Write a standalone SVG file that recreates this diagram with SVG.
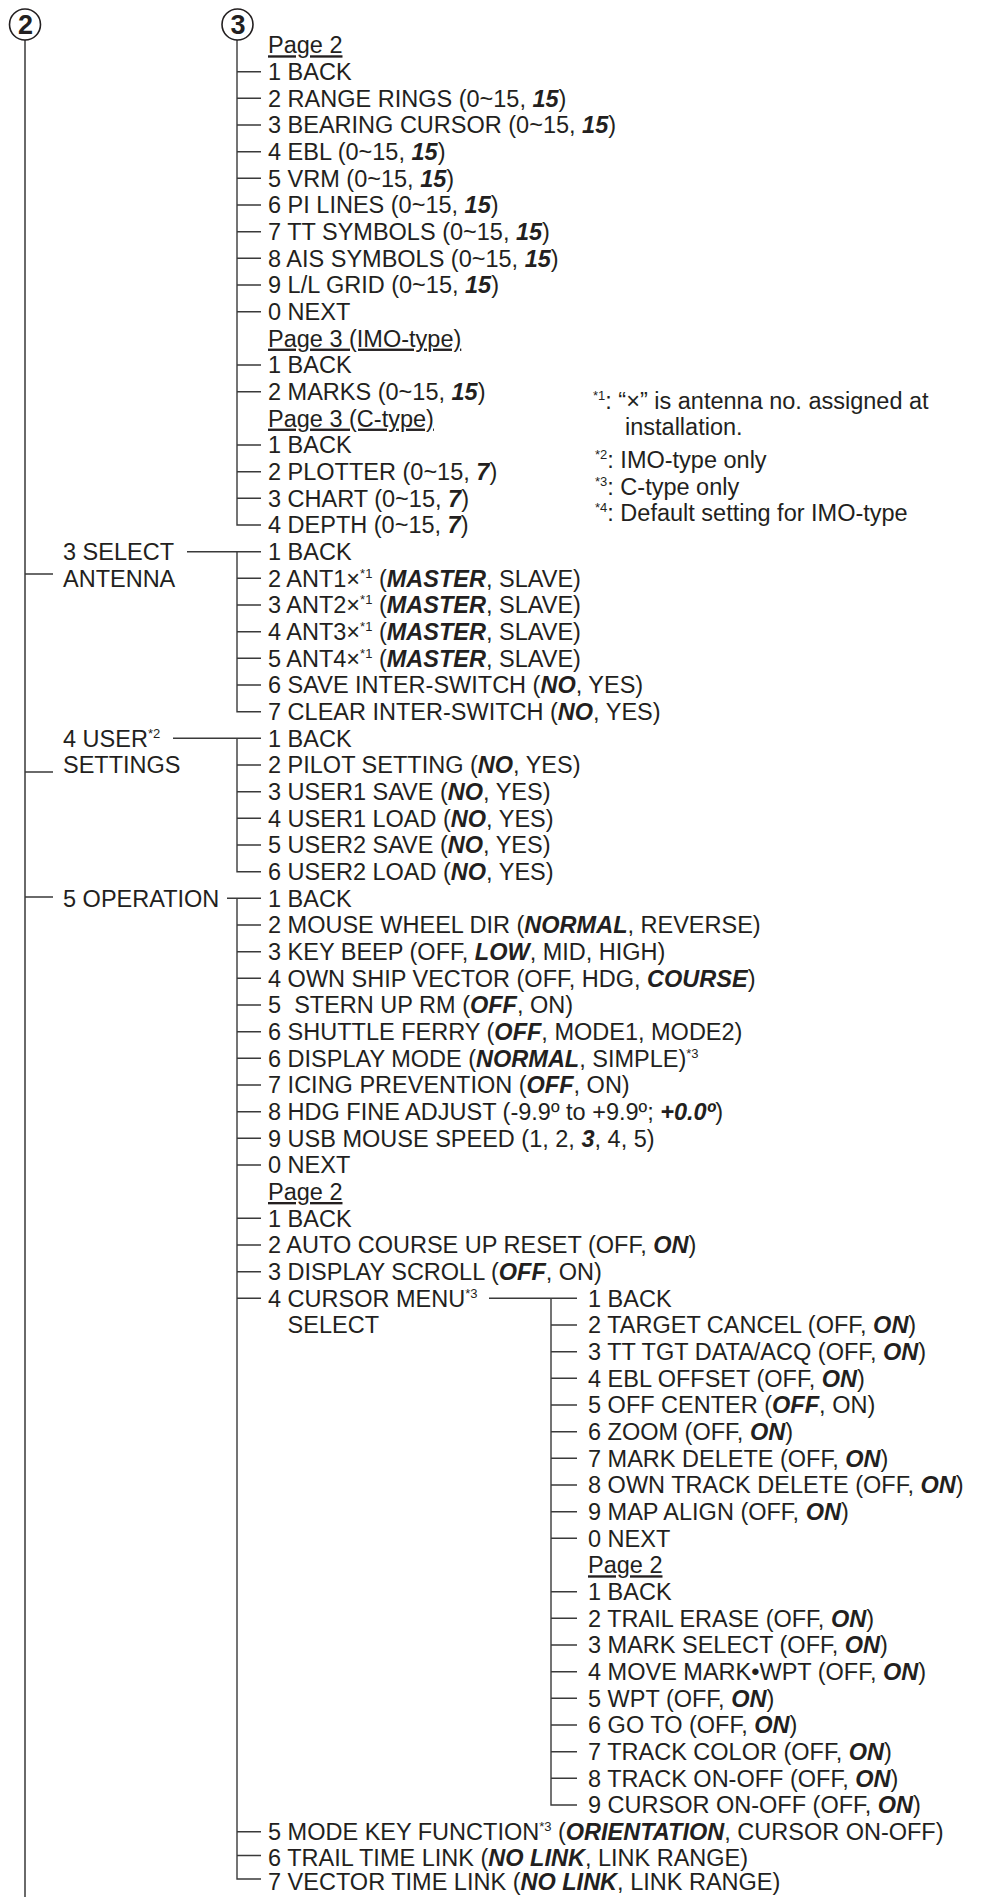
<svg xmlns="http://www.w3.org/2000/svg" width="981" height="1897" viewBox="0 0 981 1897">
<style>
.t{font-family:"Liberation Sans",Arial,sans-serif;font-size:23.5px;fill:#231f20}
.b{font-weight:bold;font-style:italic}
.s{font-size:13px}
.u{text-decoration:underline}
.ln{fill:none;stroke:#3a3a3a;stroke-width:1.4}
.ln2{fill:none;stroke:#6a6a6a;stroke-width:2}
.cir{fill:#fff;stroke:#231f20;stroke-width:1.6}
.num{font-family:"Liberation Sans",Arial,sans-serif;font-size:27px;font-weight:bold;fill:#231f20;text-anchor:middle}
</style>
<rect width="981" height="1897" fill="#fff"/>
<g id="connectors">
<path class="ln2" d="M25 40 V1897"/>
<path class="ln" d="M25 574 H53 M25 772 H53 M25 897 H53"/>
<path class="ln" d="M237 40 V525 H261 M237 71.7 H261 M237 98.3 H261 M237 125 H261 M237 151.7 H261 M237 178.3 H261 M237 205 H261 M237 231.7 H261 M237 258.3 H261 M237 285 H261 M237 311.7 H261 M237 365 H261 M237 391.7 H261 M237 445 H261 M237 471.7 H261 M237 498.3 H261"/>
<path class="ln" d="M187 551.7 H261 M237 551.7 V711.7 H261 M237 578.3 H261 M237 605 H261 M237 631.7 H261 M237 658.3 H261 M237 685 H261"/>
<path class="ln" d="M173 738.3 H261 M237 738.3 V871.7 H261 M237 765 H261 M237 791.7 H261 M237 818.3 H261 M237 845 H261"/>
<path class="ln" d="M227 898.3 H261 M237 898.3 V1879 H261 M237 925 H261 M237 951.7 H261 M237 978.3 H261 M237 1005 H261 M237 1031.7 H261 M237 1058.3 H261 M237 1085 H261 M237 1111.7 H261 M237 1138.3 H261 M237 1165 H261 M237 1218.3 H261 M237 1245 H261 M237 1271.7 H261 M237 1298.3 H261 M237 1831.7 H261 M237 1855.5 H261"/>
<path class="ln" d="M489 1298.3 H577 M551 1298.3 V1805 H577 M551 1325 H577 M551 1351.7 H577 M551 1378.3 H577 M551 1405 H577 M551 1431.7 H577 M551 1458.3 H577 M551 1485 H577 M551 1511.7 H577 M551 1538.3 H577 M551 1591.7 H577 M551 1618.3 H577 M551 1645 H577 M551 1671.7 H577 M551 1698.3 H577 M551 1725 H577 M551 1751.7 H577 M551 1778.3 H577"/>
</g>
<g id="node-2"><circle class="cir" cx="25" cy="24.5" r="15.5"/><text class="num" x="25.5" y="34.3">2</text></g>
<g id="node-3"><circle class="cir" cx="237.5" cy="24.5" r="15.5"/><text class="num" x="238" y="34.3">3</text></g>
<g id="menu-3" class="t">
<text x="268" y="53.3" class="t u">Page 2</text>
<text x="268" y="80" class="t">1 BACK</text>
<text x="268" y="106.6" class="t">2 RANGE RINGS (0~15, <tspan class="b">15</tspan>)</text>
<text x="268" y="133.3" class="t">3 BEARING CURSOR (0~15, <tspan class="b">15</tspan>)</text>
<text x="268" y="160" class="t">4 EBL (0~15, <tspan class="b">15</tspan>)</text>
<text x="268" y="186.6" class="t">5 VRM (0~15, <tspan class="b">15</tspan>)</text>
<text x="268" y="213.3" class="t">6 PI LINES (0~15, <tspan class="b">15</tspan>)</text>
<text x="268" y="240" class="t">7 TT SYMBOLS (0~15, <tspan class="b">15</tspan>)</text>
<text x="268" y="266.6" class="t">8 AIS SYMBOLS (0~15, <tspan class="b">15</tspan>)</text>
<text x="268" y="293.3" class="t">9 L/L GRID (0~15, <tspan class="b">15</tspan>)</text>
<text x="268" y="320" class="t">0 NEXT</text>
<text x="268" y="346.6" class="t u">Page 3 (IMO-type)</text>
<text x="268" y="373.3" class="t">1 BACK</text>
<text x="268" y="400" class="t">2 MARKS (0~15, <tspan class="b">15</tspan>)</text>
<text x="268" y="426.6" class="t u">Page 3 (C-type)</text>
<text x="268" y="453.3" class="t">1 BACK</text>
<text x="268" y="480" class="t">2 PLOTTER (0~15, <tspan class="b">7</tspan>)</text>
<text x="268" y="506.6" class="t">3 CHART (0~15, <tspan class="b">7</tspan>)</text>
<text x="268" y="533.3" class="t">4 DEPTH (0~15, <tspan class="b">7</tspan>)</text>
</g>
<g id="notes">
<text x="593" y="409" class="t"><tspan class="s" dy="-9">*1</tspan><tspan dy="9">: “×” is antenna no. assigned at</tspan></text>
<text x="625" y="435" class="t">installation.</text>
<text x="595" y="468" class="t"><tspan class="s" dy="-9">*2</tspan><tspan dy="9">: IMO-type only</tspan></text>
<text x="595" y="495" class="t"><tspan class="s" dy="-9">*3</tspan><tspan dy="9">: C-type only</tspan></text>
<text x="595" y="521" class="t"><tspan class="s" dy="-9">*4</tspan><tspan dy="9">: Default setting for IMO-type</tspan></text>
</g>
<g id="select-antenna">
<text x="63" y="560" class="t">3 SELECT</text>
<text x="63" y="586.6" class="t">ANTENNA</text>
<text x="268" y="560" class="t">1 BACK</text>
<text x="268" y="586.6" class="t">2 ANT1×<tspan class="s" dy="-9">*1</tspan><tspan dy="9"> (</tspan><tspan class="b">MASTER</tspan>, SLAVE)</text>
<text x="268" y="613.3" class="t">3 ANT2×<tspan class="s" dy="-9">*1</tspan><tspan dy="9"> (</tspan><tspan class="b">MASTER</tspan>, SLAVE)</text>
<text x="268" y="640" class="t">4 ANT3×<tspan class="s" dy="-9">*1</tspan><tspan dy="9"> (</tspan><tspan class="b">MASTER</tspan>, SLAVE)</text>
<text x="268" y="666.6" class="t">5 ANT4×<tspan class="s" dy="-9">*1</tspan><tspan dy="9"> (</tspan><tspan class="b">MASTER</tspan>, SLAVE)</text>
<text x="268" y="693.3" class="t">6 SAVE INTER-SWITCH (<tspan class="b">NO</tspan>, YES)</text>
<text x="268" y="720" class="t">7 CLEAR INTER-SWITCH (<tspan class="b">NO</tspan>, YES)</text>
</g>
<g id="user-settings">
<text x="63" y="746.6" class="t">4 USER<tspan class="s" dy="-9">*2</tspan></text>
<text x="63" y="773.3" class="t">SETTINGS</text>
<text x="268" y="746.6" class="t">1 BACK</text>
<text x="268" y="773.3" class="t">2 PILOT SETTING (<tspan class="b">NO</tspan>, YES)</text>
<text x="268" y="800" class="t">3 USER1 SAVE (<tspan class="b">NO</tspan>, YES)</text>
<text x="268" y="826.6" class="t">4 USER1 LOAD (<tspan class="b">NO</tspan>, YES)</text>
<text x="268" y="853.3" class="t">5 USER2 SAVE (<tspan class="b">NO</tspan>, YES)</text>
<text x="268" y="880" class="t">6 USER2 LOAD (<tspan class="b">NO</tspan>, YES)</text>
</g>
<g id="operation">
<text x="63" y="906.6" class="t">5 OPERATION</text>
<text x="268" y="906.6" class="t">1 BACK</text>
<text x="268" y="933.3" class="t">2 MOUSE WHEEL DIR (<tspan class="b">NORMAL</tspan>, REVERSE)</text>
<text x="268" y="960" class="t">3 KEY BEEP (OFF, <tspan class="b">LOW</tspan>, MID, HIGH)</text>
<text x="268" y="986.6" class="t">4 OWN SHIP VECTOR (OFF, HDG, <tspan class="b">COURSE</tspan>)</text>
<text x="268" y="1013.3" class="t" xml:space="preserve">5  STERN UP RM (<tspan class="b">OFF</tspan>, ON)</text>
<text x="268" y="1040" class="t">6 SHUTTLE FERRY (<tspan class="b">OFF</tspan>, MODE1, MODE2)</text>
<text x="268" y="1066.6" class="t">6 DISPLAY MODE (<tspan class="b">NORMAL</tspan>, SIMPLE)<tspan class="s" dy="-9">*3</tspan></text>
<text x="268" y="1093.3" class="t">7 ICING PREVENTION (<tspan class="b">OFF</tspan>, ON)</text>
<text x="268" y="1120" class="t">8 HDG FINE ADJUST (-9.9º to +9.9º; <tspan class="b">+0.0º</tspan>)</text>
<text x="268" y="1146.6" class="t">9 USB MOUSE SPEED (1, 2, <tspan class="b">3</tspan>, 4, 5)</text>
<text x="268" y="1173.3" class="t">0 NEXT</text>
<text x="268" y="1200" class="t u">Page 2</text>
<text x="268" y="1226.6" class="t">1 BACK</text>
<text x="268" y="1253.3" class="t">2 AUTO COURSE UP RESET (OFF, <tspan class="b">ON</tspan>)</text>
<text x="268" y="1280" class="t">3 DISPLAY SCROLL (<tspan class="b">OFF</tspan>, ON)</text>
<text x="268" y="1306.6" class="t">4 CURSOR MENU<tspan class="s" dy="-9">*3</tspan></text>
<text x="287.6" y="1333.3" class="t">SELECT</text>
<text x="268" y="1840" class="t">5 MODE KEY FUNCTION<tspan class="s" dy="-9">*3</tspan><tspan dy="9"> (</tspan><tspan class="b">ORIENTATION</tspan>, CURSOR ON-OFF)</text>
<text x="268" y="1865.5" class="t">6 TRAIL TIME LINK (<tspan class="b">NO LINK</tspan>, LINK RANGE)</text>
<text x="268" y="1890" class="t">7 VECTOR TIME LINK (<tspan class="b">NO LINK</tspan>, LINK RANGE)</text>
</g>
<g id="cursor-menu-select">
<text x="588" y="1306.6" class="t">1 BACK</text>
<text x="588" y="1333.3" class="t">2 TARGET CANCEL (OFF, <tspan class="b">ON</tspan>)</text>
<text x="588" y="1360" class="t">3 TT TGT DATA/ACQ (OFF, <tspan class="b">ON</tspan>)</text>
<text x="588" y="1386.6" class="t">4 EBL OFFSET (OFF, <tspan class="b">ON</tspan>)</text>
<text x="588" y="1413.3" class="t">5 OFF CENTER (<tspan class="b">OFF</tspan>, ON)</text>
<text x="588" y="1440" class="t">6 ZOOM (OFF, <tspan class="b">ON</tspan>)</text>
<text x="588" y="1466.6" class="t">7 MARK DELETE (OFF, <tspan class="b">ON</tspan>)</text>
<text x="588" y="1493.3" class="t">8 OWN TRACK DELETE (OFF, <tspan class="b">ON</tspan>)</text>
<text x="588" y="1520" class="t">9 MAP ALIGN (OFF, <tspan class="b">ON</tspan>)</text>
<text x="588" y="1546.6" class="t">0 NEXT</text>
<text x="588" y="1573.3" class="t u">Page 2</text>
<text x="588" y="1600" class="t">1 BACK</text>
<text x="588" y="1626.6" class="t">2 TRAIL ERASE (OFF, <tspan class="b">ON</tspan>)</text>
<text x="588" y="1653.3" class="t">3 MARK SELECT (OFF, <tspan class="b">ON</tspan>)</text>
<text x="588" y="1680" class="t">4 MOVE MARK•WPT (OFF, <tspan class="b">ON</tspan>)</text>
<text x="588" y="1706.6" class="t">5 WPT (OFF, <tspan class="b">ON</tspan>)</text>
<text x="588" y="1733.3" class="t">6 GO TO (OFF, <tspan class="b">ON</tspan>)</text>
<text x="588" y="1760" class="t">7 TRACK COLOR (OFF, <tspan class="b">ON</tspan>)</text>
<text x="588" y="1786.6" class="t">8 TRACK ON-OFF (OFF, <tspan class="b">ON</tspan>)</text>
<text x="588" y="1813.3" class="t">9 CURSOR ON-OFF (OFF, <tspan class="b">ON</tspan>)</text>
</g>
</svg>
